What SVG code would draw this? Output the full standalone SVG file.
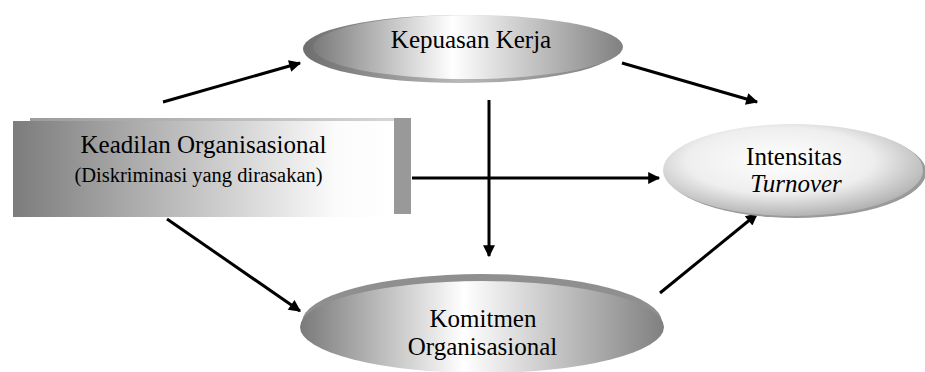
<svg xmlns="http://www.w3.org/2000/svg" width="925" height="372" viewBox="0 0 925 372">
<style>
.c{stroke:#000;stroke-width:3;fill:none}
</style>
<defs>
<linearGradient id="gBox" x1="0" y1="0" x2="1" y2="0">
<stop offset="0" stop-color="#7c7c7c"/><stop offset="0.85" stop-color="#fbfbfb"/><stop offset="1" stop-color="#ffffff"/>
</linearGradient>
<linearGradient id="gTop" x1="0" y1="0" x2="1" y2="0">
<stop offset="0" stop-color="#9c9c9c"/><stop offset="1" stop-color="#d8d8d8"/>
</linearGradient>
<linearGradient id="gEl" x1="0" y1="0" x2="1" y2="0">
<stop offset="0" stop-color="#7a7a7a"/><stop offset="0.45" stop-color="#ffffff"/><stop offset="1" stop-color="#808080"/>
</linearGradient>
<linearGradient id="gRim" x1="0" y1="0" x2="1" y2="0">
<stop offset="0" stop-color="#6e6e6e"/><stop offset="0.5" stop-color="#b8b8b8"/><stop offset="1" stop-color="#7a7a7a"/>
</linearGradient>
<radialGradient id="gInt" cx="0.45" cy="0.4" r="0.6">
<stop offset="0" stop-color="#ffffff"/><stop offset="0.6" stop-color="#eeeeee"/><stop offset="1" stop-color="#b4b4b4"/>
</radialGradient>
<marker id="ah" viewBox="0 0 10 10" refX="9" refY="5" markerWidth="5" markerHeight="4" markerUnits="strokeWidth" orient="auto">
<path d="M0,0 L10,5 L0,10 z" fill="#000"/>
</marker>
</defs>
<g id="connectors">
<line class="c" x1="163" y1="102" x2="300" y2="63" marker-end="url(#ah)"/>
<line class="c" x1="622" y1="63" x2="757" y2="102" marker-end="url(#ah)"/>
<line class="c" x1="489" y1="100" x2="489" y2="256" marker-end="url(#ah)"/>
<line class="c" x1="412" y1="178" x2="659" y2="178" marker-end="url(#ah)"/>
<line class="c" x1="167" y1="219" x2="300" y2="311" marker-end="url(#ah)"/>
<line class="c" x1="660" y1="293" x2="757" y2="214" marker-end="url(#ah)"/>
</g>
<g font-family="Liberation Serif" font-size="25" text-anchor="middle" fill="#000">
<g id="keadilan">
<rect x="30" y="118" width="381" height="96" fill="url(#gTop)"/>
<rect x="394" y="118" width="17" height="96" fill="#999999"/>
<rect x="13" y="121" width="381" height="96" fill="url(#gBox)"/>
<text x="203.5" y="153">Keadilan Organisasional</text>
<text x="198.5" y="182" font-size="20.5">(Diskriminasi yang dirasakan)</text>
</g>
<g id="kepuasan">
<ellipse cx="460" cy="49" rx="157" ry="34" fill="url(#gRim)"/>
<ellipse cx="468" cy="47" rx="155" ry="32" fill="url(#gEl)"/>
<text x="471" y="48">Kepuasan Kerja</text>
</g>
<g id="intensitas">
<ellipse cx="796" cy="172" rx="130" ry="46" fill="#9a9a9a"/>
<ellipse cx="793" cy="170" rx="130" ry="46" fill="url(#gInt)"/>
<text x="794" y="165">Intensitas</text>
<text x="796" y="192" font-style="italic">Turnover</text>
</g>
<g id="komitmen">
<ellipse cx="482" cy="322" rx="180" ry="48" fill="#8f8f8f"/>
<ellipse cx="482" cy="327" rx="182" ry="46" fill="url(#gEl)"/>
<text x="483" y="327">Komitmen</text>
<text x="482.5" y="355">Organisasional</text>
</g>
</g>
</svg>
